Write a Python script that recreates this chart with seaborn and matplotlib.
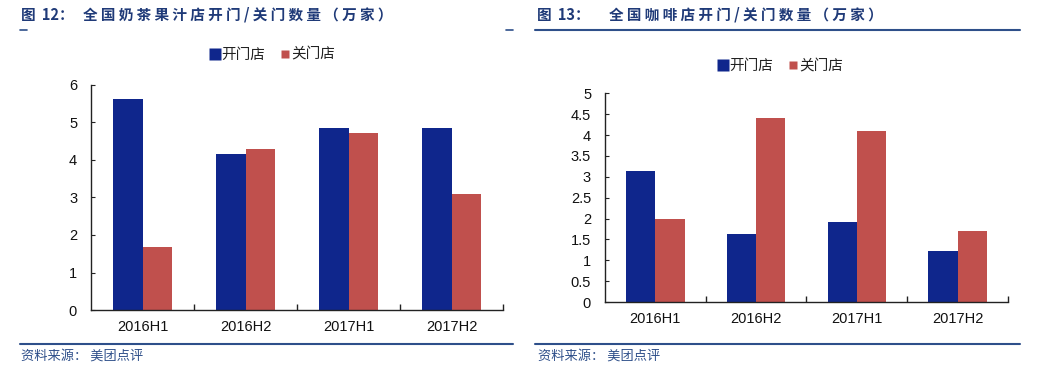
import matplotlib
matplotlib.use("Agg")
import matplotlib.pyplot as plt
import seaborn as sns
import pandas as pd
from matplotlib.lines import Line2D

periods = ["2016H1", "2016H2", "2017H1", "2017H2"]
series_names = ["开门店", "关门店"]
tea_open = [5.62, 4.15, 4.85, 4.85]
tea_close = [1.69, 4.29, 4.71, 3.08]
coffee_open = [3.15, 1.63, 1.91, 1.23]
coffee_close = [1.99, 4.40, 4.10, 1.69]
tea_yticks = [0, 1, 2, 3, 4, 5, 6]
coffee_yticks = [0, 0.5, 1, 1.5, 2, 2.5, 3, 3.5, 4, 4.5, 5]
coffee_yticklabels = ["0", "0.5", "1", "1.5", "2", "2.5", "3", "3.5", "4", "4.5", "5"]
title_left_num = "图\u2009 12："
title_left = "全国奶茶果汁店开门/关门数量（万家）"
title_right_num = "图\u2009 13："
title_right = "全国咖啡店开门/关门数量（万家）"
source_text = "资料来源： 美团点评"

sns.set_theme(style="ticks")
plt.rcParams['font.family'] = ['Liberation Sans', 'Noto Sans CJK SC', 'DejaVu Sans']

colors = ["#0F268C", "#C0504D"]
title_color = "#1F3A78"
line_color = "#2E4F8A"
cjk = ["Noto Sans CJK SC", "DejaVu Sans"]

fig = plt.figure(figsize=(10.4, 3.76), dpi=100)

def make_df(o, c):
    return pd.DataFrame({
        "period": periods * 2,
        "series": [series_names[0]] * 4 + [series_names[1]] * 4,
        "value": list(o) + list(c),
    })

def draw(ax, df, yticks, ylabels, ylim, legend_xy):
    sns.barplot(data=df, x="period", y="value", hue="series", palette=colors,
                width=0.58, ax=ax, saturation=1, legend=False, edgecolor="none")
    ax.set_xlim(-0.5, 3.5)
    ax.set_ylim(*ylim)
    ax.set_yticks(yticks)
    ax.set_yticklabels(ylabels, fontsize=10.5, color="#111111")
    ax.set_xticks([0, 1, 2, 3])
    ax.set_xticklabels(periods, fontsize=10.5, color="#111111")
    ax.set_xticks([0.5, 1.5, 2.5, 3.5], minor=True)
    ax.tick_params(axis="x", which="major", length=0, pad=7)
    ax.tick_params(axis="x", which="minor", direction="in", length=4, width=1, color="#222222")
    ax.tick_params(axis="y", direction="in", length=3, width=0.8, color="#222222", pad=10)
    ax.set_xlabel("")
    ax.set_ylabel("")
    for s in ["top", "right"]:
        ax.spines[s].set_visible(False)
    for s in ["left", "bottom"]:
        ax.spines[s].set_color("#222222")
        ax.spines[s].set_linewidth(1.0)
    handles = [Line2D([0], [0], marker="s", color="none", markerfacecolor=c, markeredgecolor="none",
                      markersize=8 if i == 0 else 6) for i, c in enumerate(colors)]
    ax.legend(handles, series_names, loc="center", bbox_to_anchor=legend_xy, ncol=2, frameon=False,
              prop={"family": cjk, "size": 10.5}, handletextpad=0.0,
              columnspacing=1.0, handlelength=0.8, labelcolor="#222222")

ax1 = fig.add_axes([0.0875, 0.1755, 0.3962, 0.5985])
draw(ax1, make_df(tea_open, tea_close), tea_yticks, [str(t) for t in tea_yticks], (0, 6), (0.44, 1.135))

ax2 = fig.add_axes([0.5817, 0.1968, 0.3875, 0.5551])
draw(ax2, make_df(coffee_open, coffee_close), coffee_yticks, coffee_yticklabels, (0, 5), (0.435, 1.13))

def spaced(s):
    return " ".join(list(s))

# titles
ty = 1 - 15 / 376
fig.text(21 / 1040, ty, title_left_num, fontsize=10.5, fontweight="bold", color=title_color,
         va="center", ha="left", family=cjk)
fig.text(83 / 1040, ty, spaced(title_left), fontsize=10.5, fontweight="bold", color=title_color,
         va="center", ha="left", family=cjk)
fig.text(537 / 1040, ty, title_right_num, fontsize=10.5, fontweight="bold", color=title_color,
         va="center", ha="left", family=cjk)
fig.text(609 / 1040, ty, spaced(title_right), fontsize=10.5, fontweight="bold", color=title_color,
         va="center", ha="left", family=cjk)

# title underlines
y_t = 1 - 29.5 / 376
fig.add_artist(Line2D([20 / 1040, 27 / 1040], [y_t, y_t], color=line_color, lw=1.2))
fig.add_artist(Line2D([506 / 1040, 513 / 1040], [y_t, y_t], color=line_color, lw=1.2))
fig.add_artist(Line2D([535 / 1040, 1020 / 1040], [y_t, y_t], color=line_color, lw=1.5))

# bottom lines
y_b = 1 - 344 / 376
fig.add_artist(Line2D([20 / 1040, 513 / 1040], [y_b, y_b], color=line_color, lw=1.5))
fig.add_artist(Line2D([535 / 1040, 1020 / 1040], [y_b, y_b], color=line_color, lw=1.5))

# sources
fig.text(21 / 1040, 1 - 356 / 376, source_text, fontsize=9.5, color="#2E4F8A",
         va="center", ha="left", family=cjk)
fig.text(538 / 1040, 1 - 356 / 376, source_text, fontsize=9.5, color="#2E4F8A",
         va="center", ha="left", family=cjk)

fig.savefig("out.png", dpi=100)
